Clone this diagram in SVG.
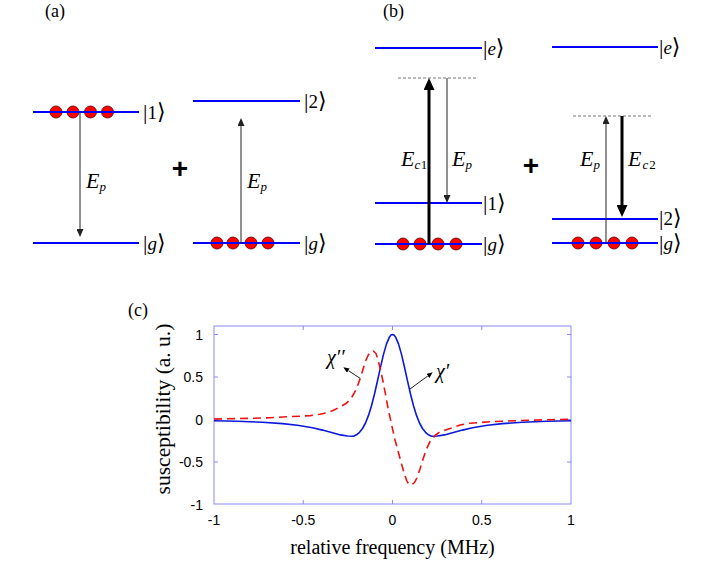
<svg xmlns="http://www.w3.org/2000/svg" width="708" height="579" viewBox="0 0 708 579">
<style>
.lvl{stroke:#0000ff;stroke-width:2;fill:none}
.atom{fill:#ff0000;stroke:#5a0000;stroke-width:0.8}
.thin{stroke:#222;stroke-width:1;fill:none}
.thick{stroke:#000;stroke-width:3;fill:none}
.virt{stroke:#777;stroke-width:1;stroke-dasharray:3 2;fill:none}
.ket{font-family:"Liberation Serif","DejaVu Serif",serif;font-size:19px;fill:#000}
.br{font-size:22px;font-style:normal}
.it{font-style:italic}
.E{font-family:"Liberation Serif","DejaVu Serif",serif;font-size:22px;font-style:italic;fill:#000}
.sub{font-size:13px}
.rm{font-style:normal}
.plus{font-family:"Liberation Sans",Arial,sans-serif;font-weight:bold;font-size:28px;text-anchor:middle;fill:#000}
.panel{font-family:"Liberation Serif",serif;font-size:18px;fill:#000}
.tick{font-family:"Liberation Sans",Arial,sans-serif;font-size:14px;fill:#000}
.tx{text-anchor:middle}
.ty{text-anchor:end}
.frame{stroke:#8a8af2;stroke-width:1;fill:none}
.title{font-family:"Liberation Serif",serif;fill:#000;text-anchor:middle}
.chi{font-family:"Liberation Serif","DejaVu Serif",serif;font-size:20px;font-style:italic;fill:#000}
.cb{stroke:#0a1ad8;stroke-width:1.6;fill:none;stroke-linejoin:round}
.cr{stroke:#ee1111;stroke-width:1.6;fill:none;stroke-dasharray:8 5;stroke-linejoin:round}
</style>
<defs>
<marker id="hThin" markerUnits="userSpaceOnUse" markerWidth="8" markerHeight="7" refX="0" refY="3.5" orient="auto"><path d="M0,0 L8,3.5 L0,7 z" fill="#222"/></marker>
<marker id="hThick" markerUnits="userSpaceOnUse" markerWidth="12" markerHeight="11" refX="0" refY="5.5" orient="auto"><path d="M0,0 L12,5.5 L0,11 z" fill="#000"/></marker>
<marker id="hSmall" markerUnits="userSpaceOnUse" markerWidth="6" markerHeight="5" refX="0" refY="2.5" orient="auto"><path d="M0,0 L6,2.5 L0,5 z" fill="#000"/></marker>
</defs>

<g id="label-a"><text class="panel" x="45" y="17">(a)</text></g>
<g id="label-b"><text class="panel" x="383" y="17">(b)</text></g>
<g id="label-c"><text class="panel" x="128" y="316">(c)</text></g>

<!-- panel (a) -->
<g id="a-level-1">
<circle class="atom" cx="56" cy="112" r="6"/><circle class="atom" cx="73" cy="112" r="6"/><circle class="atom" cx="90.5" cy="112" r="6"/><circle class="atom" cx="107.5" cy="112" r="6"/>
<line class="lvl" x1="33" y1="112" x2="139" y2="112"/>
<text class="ket" x="143" y="118.5"><tspan class="br">|</tspan>1<tspan class="br">⟩</tspan></text>
</g>
<g id="a-level-g-left">
<line class="lvl" x1="33" y1="243" x2="139" y2="243"/>
<text class="ket" x="143" y="249.5"><tspan class="br">|</tspan><tspan class="it">g</tspan><tspan class="br">⟩</tspan></text>
</g>
<g id="a-plus"><text class="plus" x="180" y="178">+</text></g>
<g id="a-level-2">
<line class="lvl" x1="193" y1="101" x2="300" y2="101"/>
<text class="ket" x="304" y="107.5"><tspan class="br">|</tspan>2<tspan class="br">⟩</tspan></text>
</g>
<g id="a-level-g-right">
<circle class="atom" cx="217" cy="243" r="6"/><circle class="atom" cx="233" cy="243" r="6"/><circle class="atom" cx="251" cy="243" r="6"/><circle class="atom" cx="268" cy="243" r="6"/>
<line class="lvl" x1="193" y1="243" x2="300" y2="243"/>
<text class="ket" x="304" y="249.5"><tspan class="br">|</tspan><tspan class="it">g</tspan><tspan class="br">⟩</tspan></text>
</g>

<!-- panel (b) -->
<g id="b-level-e-left">
<line class="lvl" x1="375" y1="48" x2="482" y2="48"/>
<text class="ket" x="483" y="54.5"><tspan class="br">|</tspan><tspan class="it">e</tspan><tspan class="br">⟩</tspan></text>
</g>
<g id="b-virtual-left"><line class="virt" x1="398" y1="78" x2="477" y2="78"/></g>
<g id="b-level-1">
<line class="lvl" x1="375" y1="203" x2="482" y2="203"/>
<text class="ket" x="483" y="209.5"><tspan class="br">|</tspan>1<tspan class="br">⟩</tspan></text>
</g>
<g id="b-level-g-left">
<circle class="atom" cx="403" cy="244" r="6"/><circle class="atom" cx="420" cy="244" r="6"/><circle class="atom" cx="438" cy="244" r="6"/><circle class="atom" cx="456" cy="244" r="6"/>
<line class="lvl" x1="375" y1="244" x2="482" y2="244"/>
<text class="ket" x="483" y="250.5"><tspan class="br">|</tspan><tspan class="it">g</tspan><tspan class="br">⟩</tspan></text>
</g>
<g id="b-plus"><text class="plus" x="531" y="175">+</text></g>
<g id="b-level-e-right">
<line class="lvl" x1="552" y1="47" x2="658" y2="47"/>
<text class="ket" x="659" y="53.5"><tspan class="br">|</tspan><tspan class="it">e</tspan><tspan class="br">⟩</tspan></text>
</g>
<g id="b-virtual-right"><line class="virt" x1="573" y1="116" x2="652" y2="116"/></g>
<g id="b-level-2">
<line class="lvl" x1="552" y1="219" x2="658" y2="219"/>
<text class="ket" x="659" y="225"><tspan class="br">|</tspan>2<tspan class="br">⟩</tspan></text>
</g>
<g id="b-level-g-right">
<circle class="atom" cx="578" cy="243" r="6"/><circle class="atom" cx="596" cy="243" r="6"/><circle class="atom" cx="614" cy="243" r="6"/><circle class="atom" cx="632" cy="243" r="6"/>
<line class="lvl" x1="552" y1="243" x2="658" y2="243"/>
<text class="ket" x="659" y="250"><tspan class="br">|</tspan><tspan class="it">g</tspan><tspan class="br">⟩</tspan></text>
</g>

<!-- connectors -->
<g id="connectors">
<line class="thin" x1="80" y1="112" x2="80" y2="229" marker-end="url(#hThin)"/>
<line class="thin" x1="241" y1="243" x2="241" y2="126" marker-end="url(#hThin)"/>
<line class="thick" x1="429" y1="244" x2="429" y2="90" marker-end="url(#hThick)"/>
<line class="thin" x1="447" y1="78" x2="447" y2="195" marker-end="url(#hThin)"/>
<line class="thin" x1="606" y1="243" x2="606" y2="124" marker-end="url(#hThin)"/>
<line class="thick" x1="622" y1="116" x2="622" y2="205" marker-end="url(#hThick)"/>
<line class="thin" x1="360" y1="378.3" x2="348.3" y2="370.6" marker-end="url(#hSmall)"/>
<line class="thin" x1="410" y1="389" x2="427.9" y2="375.9" marker-end="url(#hSmall)"/>
</g>

<g id="connector-labels">
<text class="E" x="86" y="188">E<tspan class="sub" dy="3">p</tspan></text>
<text class="E" x="247" y="188">E<tspan class="sub" dy="3">p</tspan></text>
<text class="E" x="401" y="166">E<tspan class="sub" dy="3">c</tspan><tspan class="sub rm" dx="0.5">1</tspan></text>
<text class="E" x="452" y="166">E<tspan class="sub" dy="3">p</tspan></text>
<text class="E" x="580" y="166">E<tspan class="sub" dy="3">p</tspan></text>
<text class="E" x="628" y="166">E<tspan class="sub" dy="3" dx="1">c</tspan><tspan class="sub rm" dx="1">2</tspan></text>
</g>

<!-- panel (c) plot -->
<g id="plot">
<rect class="frame" x="214" y="326" width="357" height="178"/>
<path class="frame" d="M303.25,326v4M392.5,326v4M481.75,326v4M303.25,504v-4M392.5,504v-4M481.75,504v-4M214,334.5h4M214,377h4M214,419.5h4M214,462h4M571,334.5h-4M571,377h-4M571,419.5h-4M571,462h-4"/>
<text class="tick ty" x="203" y="339.5">1</text>
<text class="tick ty" x="203" y="382">0.5</text>
<text class="tick ty" x="203" y="424.5">0</text>
<text class="tick ty" x="203" y="467">-0.5</text>
<text class="tick ty" x="203" y="509.5">-1</text>
<text class="tick tx" x="214" y="525">-1</text>
<text class="tick tx" x="303.25" y="525">-0.5</text>
<text class="tick tx" x="392.5" y="525">0</text>
<text class="tick tx" x="481.75" y="525">0.5</text>
<text class="tick tx" x="571" y="525">1</text>
<text class="title" x="392.5" y="554" font-size="20">relative frequency (MHz)</text>
<text class="title" transform="translate(170,409) rotate(-90)" font-size="21.5">susceptibility (a. u.)</text>
<path class="cb" d="M214,420.8 L237.5,421.3 L262.5,422.3 L282.5,423.6 L297.5,425.2 L312.5,427.8 L322.5,430.1 L332.5,432.8 L340.5,434.9 L347.5,436.0 L353.5,436.3 L356.5,434.8 L359.5,432.3 L362.5,428.5 L365.5,423.0 L368.5,415.4 L371.5,405.7 L374.5,394.0 L377.5,380.8 L380.5,367.2 L383.5,354.4 L386.5,343.9 L389.5,336.9 L391,335.1 L392.5,334.5 L394,335.1 L395.5,336.9 L398.5,343.9 L401.5,354.4 L404.5,367.2 L407.5,380.8 L410.5,394.0 L413.5,405.7 L416.5,415.4 L419.5,423.0 L422.5,428.5 L425.5,432.3 L428.5,434.8 L431.5,436.3 L437.5,436.0 L444.5,434.9 L452.5,432.8 L462.5,430.1 L472.5,427.8 L487.5,425.2 L502.5,423.6 L522.5,422.3 L547.5,421.3 L571,420.8"/>
<path class="cr" d="M214,419.0 L235,418.6 L253,418.3 L270,417.7 L287,416.8 L300,416.2 L310,415.6 L320,414.3 L327,412.7 L333,410.5 L340,406.9 L346.7,403.0 L351,398.5 L354,393.5 L356.7,388.3 L360,379 L363.3,368.3 L366,360 L368.3,355 L370.5,352 L373.3,351 L376,353.5 L378.3,361 L381,372 L383,381.5 L385,391.7 L388,408 L391.7,425 L395,440 L400,458.3 L403.5,471 L406.7,480.5 L408.5,484 L410,485 L412,484.5 L414.5,482.5 L416.7,478.3 L420,469 L423.3,458.3 L426.5,449 L430,441.7 L435,435.5 L440,431.7 L450,428.5 L460,425 L470,423.3 L490,421.7 L516.7,420.7 L536.7,420 L571,419.3"/>
<text class="chi" x="327" y="364">χ′′</text>
<text class="chi" x="436" y="378">χ′</text>
</g>
</svg>
